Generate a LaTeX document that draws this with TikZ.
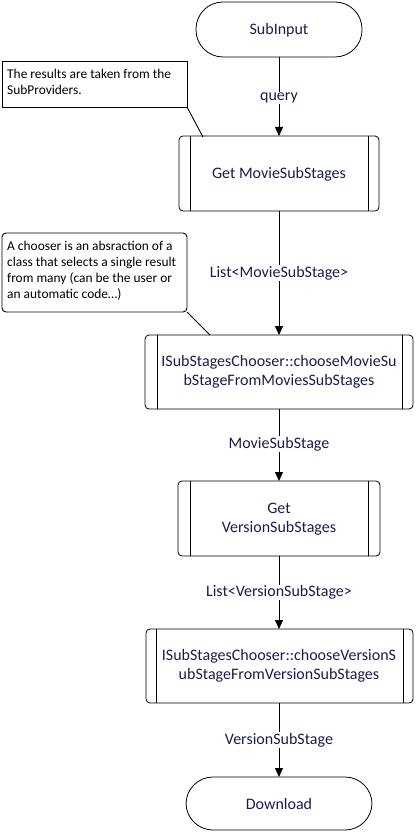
\documentclass[tikz,border=0pt]{standalone}
\usepackage{fontspec}
\setmainfont{Carlito}
\usetikzlibrary{arrows.meta}
\definecolor{txt}{HTML}{1C1C4C}
\begin{document}
\begin{tikzpicture}[x=1pt,y=-1pt,
  term/.style={draw,line width=0.8pt,rounded corners=27pt},
  proc/.style={draw,line width=0.8pt,rounded corners=4pt},
  lbl/.style={fill=white,inner sep=1pt,text=txt,font=\fontsize{16}{19}\selectfont},
  ntext/.style={text=txt,font=\fontsize{16}{19.5}\selectfont,align=center},
  notetext/.style={text=black,font=\fontsize{13.4}{16}\selectfont,align=left,anchor=north west,inner sep=0pt},
  flow/.style={draw,line width=0.8pt,-{Triangle[length=9pt,width=8pt]}},
  callout/.style={draw,line width=0.9pt}]
\useasboundingbox (0,0) rectangle (415,834);
% SubInput
\draw[term] (196,2) rectangle (362,57);
\node[ntext] (sub) at (279,30) {SubInput};
\coordinate (subB) at (279,57);
% Get MovieSubStages
\draw[proc] (179,136) rectangle (379,211);
\draw[line width=0.8pt] (190,136) -- (190,211) (368,136) -- (368,211);
\node[ntext] (gm) at (279,174) {Get MovieSubStages};
\coordinate (gmT) at (279,136);
\coordinate (gmB) at (279,211);
% Chooser 1
\draw[proc] (145,335) rectangle (413,409);
\draw[line width=0.8pt] (157,335) -- (157,409) (402,335) -- (402,409);
\node[ntext] (c1) at (279,372) {ISubStagesChooser::chooseMovieSu\\bStageFromMoviesSubStages};
\coordinate (c1T) at (279,335);
\coordinate (c1B) at (279,409);
% Get VersionSubStages
\draw[proc] (178,481) rectangle (380,556);
\draw[line width=0.8pt] (190,481) -- (190,556) (368,481) -- (368,556);
\node[ntext] (gv) at (279,519) {Get\\VersionSubStages};
\coordinate (gvT) at (279,481);
\coordinate (gvB) at (279,556);
% Chooser 2
\draw[proc] (146,629) rectangle (413,703);
\draw[line width=0.8pt] (156,629) -- (156,703) (403,629) -- (403,703);
\node[ntext] (c2) at (279,666) {ISubStagesChooser::chooseVersionS\\ubStageFromVersionSubStages};
\coordinate (c2T) at (279,629);
\coordinate (c2B) at (279,703);
% Download
\draw[term] (186,777) rectangle (372,830);
\node[ntext] (dl) at (279,804) {Download};
\coordinate (dlT) at (279,777);
% connectors
\draw[flow] (subB) -- (gmT) node[lbl,pos=0.52] {query};
\draw[flow] (gmB) -- (c1T) node[lbl,pos=0.5] {List<MovieSubStage>};
\draw[flow] (c1B) -- (gvT) node[lbl,pos=0.49] {MovieSubStage};
\draw[flow] (gvB) -- (c2T) node[lbl,pos=0.5] {List<VersionSubStage>};
\draw[flow] (c2B) -- (dlT) node[lbl,pos=0.5] {VersionSubStage};
% Note 1
\draw[callout] (2,61) rectangle (187,107);
\node[notetext] (n1) at (7,69) {The results are taken from the\\SubProviders.};
\coordinate (n1c) at (187,107);
\coordinate (n1e) at (203,137);
\draw[callout] (n1c) -- (n1e);
% Note 2
\draw[callout,rounded corners=4pt] (2,233) rectangle (187,312);
\node[notetext] (n2) at (7,241) {A chooser is an absraction of a\\class that selects a single result\\from many (can be the user or\\an automatic code\dots)};
\coordinate (n2c) at (187,312);
\coordinate (n2e) at (210,335);
\draw[callout] (n2c) -- (n2e);
\end{tikzpicture}
\end{document}
